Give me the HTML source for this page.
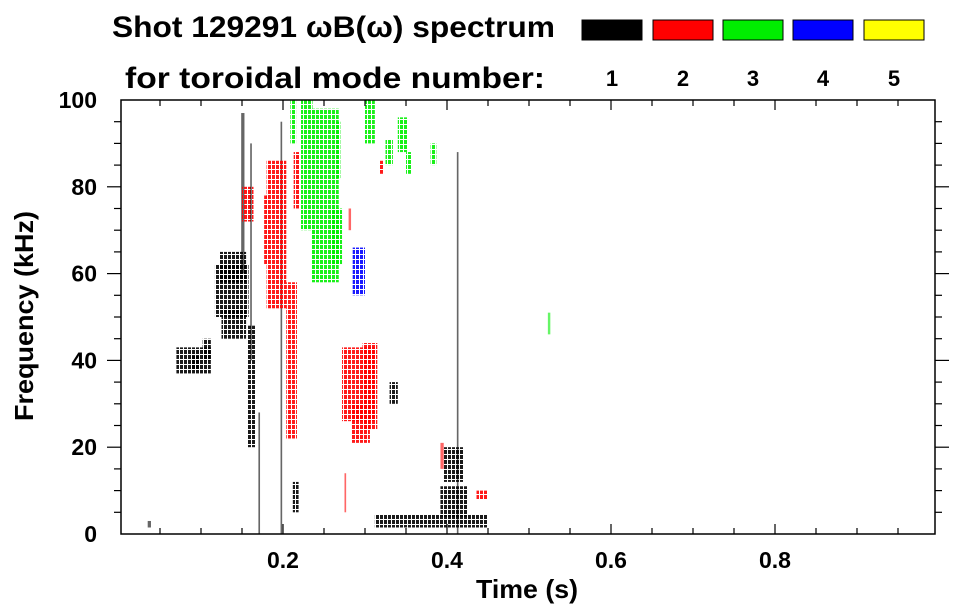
<!DOCTYPE html>
<html><head><meta charset="utf-8"><style>
body{margin:0;background:#fff;}
svg{display:block;font-family:"Liberation Sans",sans-serif;font-weight:bold;}
</style></head><body>
<svg id="chart" width="963" height="615">
<text x="112" y="37" font-size="30" textLength="443" lengthAdjust="spacingAndGlyphs">Shot 129291 ωB(ω) spectrum</text>
<text x="125" y="88" font-size="30" textLength="420" lengthAdjust="spacingAndGlyphs">for toroidal mode number:</text>
<g id="legend"></g>
<g id="marks"></g>
<rect x="121" y="100" width="814" height="434" fill="none" stroke="#000" stroke-width="1.5"/>
<g id="axes"></g>
<text x="527" y="598" font-size="26" text-anchor="middle" textLength="102" lengthAdjust="spacingAndGlyphs">Time (s)</text>
<text transform="translate(33,316) rotate(-90)" font-size="26" text-anchor="middle" textLength="210" lengthAdjust="spacingAndGlyphs">Frequency (kHz)</text>
</svg>
<script>
const modeNumbers=[1,2,3,4,5];
const modeColors=["#000000","#ff0000","#00ee00","#0000ff","#ffff00"];
const xTicks=[0.2,0.4,0.6,0.8];
const yTicks=[0,20,40,60,80,100];
// patches: time range (s), freq range (kHz), mode index
const patchT0=[0.117,0.122,0.125,0.157,0.070,0.088,0.102,0.149,0.170,0.197,0.212,0.150,0.180,0.204,0.213,0.209,0.222,0.235,0.258,0.272,0.283,0.297,0.275,0.280,0.318,0.285,0.325,0.350,0.380,0.312,0.392,0.412,0.396,0.436,0.392,0.523,0.035,0.160,0.177,0.265,0.330,0.300,0.340];
const patchT1=[0.158,0.155,0.155,0.167,0.112,0.098,0.112,0.153,0.172,0.199,0.219,0.164,0.204,0.217,0.220,0.216,0.236,0.268,0.272,0.312,0.306,0.315,0.277,0.283,0.323,0.300,0.334,0.357,0.387,0.450,0.425,0.414,0.420,0.450,0.396,0.526,0.039,0.162,0.182,0.270,0.340,0.312,0.352];
const patchF0=[50,58,45,20,37,38,40,60,0,0,5,72,52,22,75,90,70,58,62,26,21,24,5,70,83,55,85,83,85,1.5,4,0,12,8,15,46,1.5,40,62,82,30,90,88];
const patchF1=[62,65,52,48,43,41,45,97,28,95,12,80,86,58,88,100,100,98,75,43,30,44,14,75,86,66,91,88,90,4.5,11,88,20,10,21,51,3,90,78,95,35,100,96];
const patchMode=[0,0,0,0,0,0,0,0,0,0,0,1,1,1,1,2,2,2,2,1,1,1,1,1,1,3,2,2,2,0,0,0,0,1,1,2,0,0,1,2,0,2,2];
const NS="http://www.w3.org/2000/svg";
const X0=121,X1=935,Y0=534,Y1=100;
function xs(t){return 119+t*820;}
function ys(f){return Y0-(f/100)*(Y0-Y1);}
function mk(tag,attrs,parent){const e=document.createElementNS(NS,tag);for(const k in attrs)e.setAttribute(k,attrs[k]);parent.appendChild(e);return e;}
const marks=document.getElementById('marks'),axes=document.getElementById('axes'),legend=document.getElementById('legend');
const defs=mk('defs',{},document.getElementById('chart'));
modeColors.forEach((c,i)=>{
 const p=mk('pattern',{id:'pat'+i,width:4,height:5,patternUnits:'userSpaceOnUse'},defs);
 mk('rect',{x:0,y:0,width:3,height:4,fill:c},p);
});
for(let i=0;i<patchT0.length;i++){
 const x=Math.max(X0,xs(patchT0[i])),w=xs(patchT1[i])-x,y=ys(patchF1[i]),h=ys(patchF0[i])-y;
 const thin=w<4;
 const r=mk('rect',{x:x,y:y,width:Math.max(1,w),height:Math.max(1,h),fill:thin?modeColors[patchMode[i]]:'url(#pat'+patchMode[i]+')',opacity:thin?0.6:0.9},marks);
 
 
}
const lx=[582,653,723,793,864];
for(let i=0;i<modeNumbers.length;i++){
 const r=mk('rect',{x:lx[i],y:20,width:60,height:20,fill:modeColors[i],stroke:'#000','stroke-width':1},legend);
 
 
 const t=mk('text',{x:lx[i]+30,y:86,'font-size':22,'text-anchor':'middle'},legend);
 t.textContent=modeNumbers[i];
 
 
}
for(let t=0.05;t<0.99;t+=0.05){
 const x=xs(t),maj=Math.abs(t/0.2-Math.round(t/0.2))<1e-6;const L=maj?10:6;
 mk('line',{x1:x,x2:x,y1:Y0,y2:Y0-L,stroke:'#000','stroke-width':1.2},axes);
 mk('line',{x1:x,x2:x,y1:Y1,y2:Y1+L,stroke:'#000','stroke-width':1.2},axes);
}
for(let f=5;f<100;f+=5){
 const y=ys(f),maj=f%20===0;const L=maj?14:7;
 mk('line',{x1:X0,x2:X0-L,y1:y,y2:y,stroke:'#000','stroke-width':1.2},axes);
 mk('line',{x1:X1,x2:X1+L,y1:y,y2:y,stroke:'#000','stroke-width':1.2},axes);
}
xTicks.forEach(v=>{const t=mk('text',{x:xs(v),y:568,'font-size':23,'text-anchor':'middle'},axes);t.textContent=v.toFixed(1);
 
 });
yTicks.forEach(v=>{const t=mk('text',{x:97,y:ys(v)+8,'font-size':23,'text-anchor':'end'},axes);t.textContent=v;
 
 });
</script>
</body></html>
